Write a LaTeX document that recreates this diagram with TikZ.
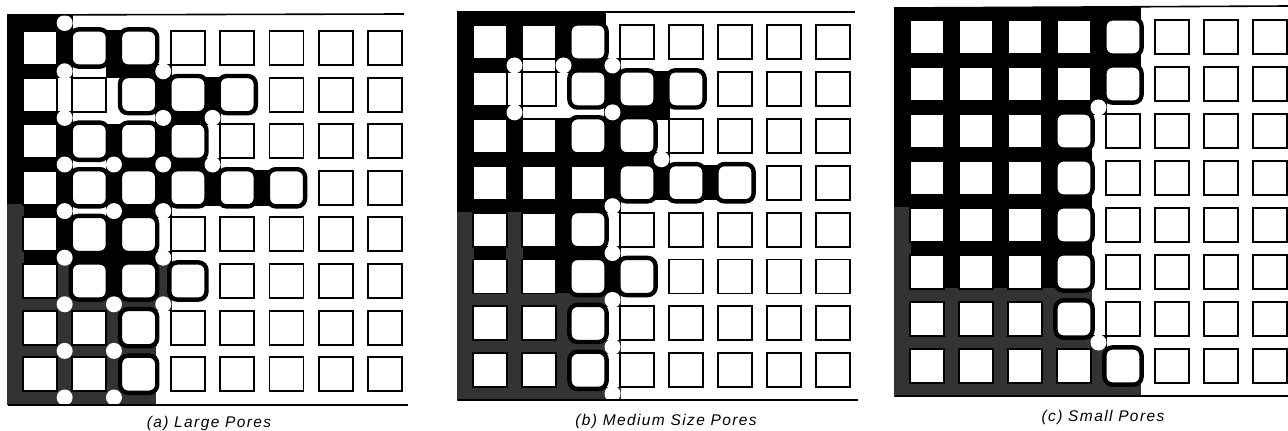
\documentclass[tikz,border=0pt]{standalone}
\usepackage{fontspec}
\newfontfamily\capfont[LetterSpace=9]{Liberation Sans}
\colorlet{ink}{black}
\colorlet{inkg}{black!80}
% panel geometry: xL yT x0 y0 pitchx pitchy size
\newcommand\Pset[7]{\def\PxL{#1}\def\PyT{#2}\def\Pxo{#3}\def\Pyo{#4}\def\Ppx{#5}\def\Ppy{#6}\def\Ps{#7}}
% element extent: index, origin, pitch, outer edge -> \PLo \PHi
\newcommand\Pel[4]{%
  \pgfmathsetmacro\PLo{(#1==0) ? #4 : #2 + floor((#1-1)/2)*#3 + ((mod(#1,2)==0) ? \Ps : 0)}%
  \pgfmathsetmacro\PHi{(mod(#1,2)==0) ? #2 + (#1/2)*#3 : #2 + ((#1-1)/2)*#3 + \Ps}%
}
% filled block over elements (k1,l1)..(k2,l2)
\newcommand\DR[5][ink]{%
  \Pel{#2}{\Pxo}{\Ppx}{\PxL}\let\PAx\PLo
  \Pel{#4}{\Pxo}{\Ppx}{\PxL}\let\PBx\PHi
  \Pel{#3}{\Pyo}{\Ppy}{\PyT}\let\PAy\PLo
  \Pel{#5}{\Pyo}{\Ppy}{\PyT}\let\PBy\PHi
  \fill[#1] (\PAx-0.7,\PAy-0.7) rectangle (\PBx+0.7,\PBy+0.7);}
% white pore body at node (i,j)
\newcommand\WC[3][8]{%
  \Pel{2*#2}{\Pxo}{\Ppx}{\PxL}\pgfmathsetmacro\PCx{(\PLo+\PHi)/2}%
  \Pel{2*#3}{\Pyo}{\Ppy}{\PyT}\pgfmathsetmacro\PCy{(\PLo+\PHi)/2}%
  \fill[white] (\PCx,\PCy) circle (#1pt);}
% solid square at column c, row r
\newcommand\SQ[2]{%
  \pgfmathsetmacro\PSx{\Pxo+#1*\Ppx}\pgfmathsetmacro\PSy{\Pyo+#2*\Ppy}%
  \draw[cellthin] (\PSx,\PSy) rectangle ++(\Ps,\Ps);}
% square wetted by a film: thick rounded outline, bulging outwards
\newcommand\SQT[2]{%
  \pgfmathsetmacro\PSx{\Pxo+#1*\Ppx-1.6}\pgfmathsetmacro\PSy{\Pyo+#2*\Ppy-1.6}%
  \pgfmathsetmacro\PSs{\Ps+3.2}%
  \draw[cellthick] (\PSx,\PSy) rectangle ++(\PSs,\PSs);}
\newcommand\AllSquares{\foreach \c in {0,...,7}{\foreach \r in {0,...,7}{\SQ{\c}{\r}}}}
\begin{document}
\begin{tikzpicture}[x=1pt,y=-1pt,
  cellthin/.style={draw=black,fill=white,line width=1.9pt},
  cellthick/.style={draw=black,fill=white,line width=4.4pt,rounded corners=8pt},
  frameline/.style={draw=black,line width=1.6pt},
  captxt/.style={font=\capfont\itshape\fontsize{15.5}{18}\selectfont,inner sep=0pt}]
\useasboundingbox (0,0) rectangle (1288,431);

% ---------------- (a) Large pores ----------------
\Pset{8}{15}{23}{31}{49.3}{46.6}{34}
\DR{0}{0}{0}{16}
\DR{0}{0}{2}{0}
\DR{2}{0}{2}{2}
\DR{2}{4}{2}{16}
\DR{4}{1}{4}{2}
\DR{4}{5}{4}{16}
\DR{6}{2}{6}{8}
\DR{6}{10}{6}{12}
\DR{8}{3}{8}{4}
\DR{8}{6}{8}{7}
\DR{10}{7}{10}{7}
\DR{0}{2}{1}{2}\DR{4}{2}{6}{2}
\DR{0}{4}{1}{4}\DR{6}{4}{8}{4}
\DR{0}{6}{1}{6}\DR{4}{6}{8}{6}
\DR{0}{8}{1}{8}\DR{4}{8}{6}{8}
\DR{0}{10}{6}{10}
\DR[inkg]{0}{12}{5}{16}
\DR[inkg]{0}{8}{0}{11}
\DR[inkg]{2}{11}{2}{11}
\DR[inkg]{6}{11}{6}{12}
\foreach \i/\j in {1/0,1/1,1/2,1/3,1/4,1/5,1/6,1/7,1/8,
  2/3,2/4,2/6,2/7,2/8,3/1,3/2,3/3,3/4,3/5,3/6,4/2,4/3}{\WC{\i}{\j}}
\AllSquares
\foreach \c/\r in {1/0,2/0,2/1,3/1,4/1,1/2,2/2,3/2,1/3,2/3,3/3,4/3,5/3,
  1/4,2/4,1/5,2/5,3/5,2/6,2/7}{\SQT{\c}{\r}}
\draw[frameline] (8,15) -- (404,14);
\draw[frameline] (8,405) -- (408,405);
\node[captxt] (capa) at (209,423) {(a) Large Pores};

% ---------------- (b) Medium size pores ----------------
\Pset{458}{12}{473}{25}{49}{46.9}{34}
\DR{0}{0}{0}{16}
\DR{0}{0}{5}{0}
\DR{2}{1}{2}{2}\DR{2}{4}{2}{16}
\DR{4}{1}{4}{2}\DR{4}{5}{4}{16}
\DR{6}{2}{6}{8}\DR{6}{10}{6}{12}\DR{6}{14}{6}{14}\DR{6}{16}{6}{16}
\DR{8}{3}{8}{4}\DR{8}{6}{8}{7}
\DR{10}{7}{10}{7}
\DR{0}{2}{1}{2}\DR{4}{2}{6}{2}
\DR{0}{4}{1}{4}\DR{6}{4}{8}{4}
\DR{0}{6}{8}{6}
\DR{0}{8}{6}{8}
\DR{0}{10}{6}{10}
\DR[inkg]{0}{12}{5}{16}
\DR[inkg]{6}{12}{6}{12}\DR[inkg]{6}{14}{6}{14}\DR[inkg]{6}{16}{6}{16}
\DR[inkg]{0}{9}{0}{11}
\DR[inkg]{2}{9}{2}{11}
\foreach \i/\j in {1/1,1/2,2/1,3/1,3/2,3/4,3/5,3/6,3/7,3/8,4/3}{\WC{\i}{\j}}
\AllSquares
\foreach \c/\r in {2/0,2/1,3/1,4/1,2/2,3/2,3/3,4/3,5/3,2/4,2/5,3/5,2/6,2/7}{\SQT{\c}{\r}}
\draw[frameline] (458,12) -- (855,12);
\draw[frameline] (458,400) -- (858,400);
\node[captxt] (capb) at (666,421) {(b) Medium Size Pores};

% ---------------- (c) Small pores ----------------
\Pset{895}{8}{910}{20}{49}{47}{34}
\DR{0}{0}{7}{16}
\DR{8}{0}{9}{3}
\DR{8}{4}{8}{4}
\DR{8}{14}{8}{16}
\DR{9}{16}{9}{16}
\DR[inkg]{0}{12}{7}{16}
\DR[inkg]{8}{15}{8}{16}
\DR[inkg]{9}{16}{9}{16}
\DR[inkg]{0}{9}{0}{11}
\foreach \i/\j in {4/2,4/7}{\WC{\i}{\j}}
\AllSquares
\foreach \c/\r in {4/0,4/1,3/2,3/3,3/4,3/5,3/6,4/7}{\SQT{\c}{\r}}
\draw[frameline] (895,8) -- (1288,6);
\draw[frameline] (895,396) -- (1288,396);
\node[captxt] (capc) at (1103,417) {(c) Small Pores};
\end{tikzpicture}
\end{document}
